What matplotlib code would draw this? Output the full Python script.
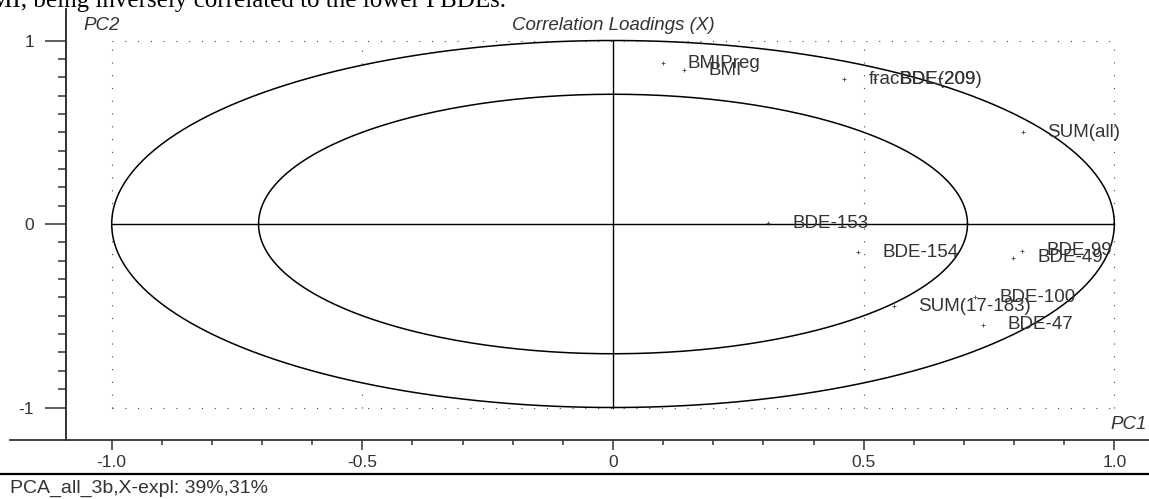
#!/usr/bin/env python3
"""
Correlation loadings plot (PC1 vs PC2) redrawn from the PCA_all_3b report page.
"""

import matplotlib

matplotlib.use("Agg")
import matplotlib.pyplot as plt
import numpy as np
from matplotlib.lines import Line2D

plt.rcParams["font.family"] = ["Liberation Sans", "DejaVu Sans"]

# loadings
variables = ["BMIPreg", "BMI", "fracBDE(209)", "BDE-209", "SUM(all)", "BDE-153",
             "BDE-154", "BDE-99", "BDE-49", "BDE-100", "SUM(17-183)", "BDE-47"]
pc1 = [0.100, 0.142, 0.461, 0.523, 0.818, 0.309, 0.489, 0.816, 0.798, 0.722, 0.560, 0.738]
pc2 = [0.877, 0.839, 0.790, 0.790, 0.501, 0.005, -0.153, -0.147, -0.185, -0.398, -0.447, -0.550]

x_ticks = [-1.0, -0.5, 0.0, 0.5, 1.0]
x_ticklabels = ["-1.0", "-0.5", "0", "0.5", "1.0"]
y_ticks = [-1, 0, 1]
y_ticklabels = ["-1", "0", "1"]

W, H = 1149, 499


def main() -> None:
    fig = plt.figure(figsize=(W / 100, H / 100), dpi=100)
    ax = fig.add_axes([66 / W, 59 / H, (W - 66) / W, 431 / H])
    ax.set_xlim(-1.0912, 1.0692)
    ax.set_ylim(-1.1771, 1.1717)

    for s in ["top", "right"]:
        ax.spines[s].set_visible(False)
    ax.spines["left"].set_color("#333333")
    ax.spines["left"].set_linewidth(1.4)
    ax.spines["bottom"].set_color("#333333")
    ax.spines["bottom"].set_linewidth(1.3)

    # x axis line runs a bit past the y axis on the left
    fig.add_artist(Line2D([10 / W, 66 / W], [59 / H, 59 / H], color="#333333", lw=1.3))
    # rule under the axis
    fig.add_artist(Line2D([0, 1], [25 / H, 25 / H], color="black", lw=1.6))

    ax.set_xticks(x_ticks)
    ax.set_xticklabels(x_ticklabels)
    ax.set_xticks(np.arange(-1.0, 1.01, 0.1), minor=True)
    ax.set_yticks(y_ticks)
    ax.set_yticklabels(y_ticklabels)
    ax.set_yticks(np.arange(-1.0, 1.01, 0.1), minor=True)
    ax.tick_params(axis="x", which="major", length=7.2, width=1.1, pad=3.5,
                   labelsize=12.5, colors="#333333")
    ax.tick_params(axis="x", which="minor", length=3.6, width=1.1, colors="#333333")
    ax.tick_params(axis="y", which="major", length=15, width=1.1, pad=8,
                   labelsize=12.5, colors="#333333")
    ax.tick_params(axis="y", which="minor", length=5.8, width=1.1, colors="#333333")

    # dotted frame / grid
    dots = dict(color="#444444", lw=0.8, linestyle=(0, (1, 10.5)))
    ax.plot([-1, 1], [1, 1], **dots)
    ax.plot([-1, 1], [-1, -1], **dots)
    for gx in [-1.0, 0.5, 1.0]:
        ax.plot([gx, gx], [-1, 1], **dots)
    ax.plot([-0.5, -0.5], [0.87, 1.0], **dots)
    ax.plot([-0.5, -0.5], [-1.0, -0.87], **dots)

    # 100% and 50% explained variance ellipses
    t = np.linspace(0, 2 * np.pi, 400)
    for r in [1.0, np.sqrt(0.5)]:
        ax.plot(r * np.cos(t), r * np.sin(t), color="black", lw=1.1)
    ax.plot([-1, 1], [0, 0], color="black", lw=1.0)
    ax.plot([0, 0], [-1, 1], color="black", lw=1.0)

    ax.plot(pc1, pc2, "+", ms=3, mew=0.6, color="#444444", ls="none")
    for name, x, y in zip(variables, pc1, pc2):
        ax.annotate(name, (x, y), xytext=(17.5, 0), textcoords="offset points",
                    ha="left", va="center", fontsize=13.5, color="#333333")

    ax.text(0, 1.084, "Correlation Loadings (X)", ha="center", va="center",
            fontsize=13.5, style="italic", color="#333333")
    ax.text(-1.057, 1.084, "PC2", ha="left", va="center", fontsize=13.5,
            style="italic", color="#333333")
    ax.text(1.064, -1.095, "PC1", ha="right", va="center", fontsize=13.5,
            style="italic", color="#333333")

    fig.text(10 / W, 1 - 488 / H, "PCA_all_3b,X-expl: 39%,31%", ha="left", va="center",
             fontsize=14, color="#333333")
    # cut-off line of running text above the figure
    fig.text(-10 / W, 1 - 7 / H, "MI, being inversely correlated to the lower PBDEs.",
             ha="left", va="baseline", fontsize=18, color="black",
             family=["Liberation Serif", "DejaVu Serif"])

    fig.savefig("out.png", dpi=100)
    plt.close(fig)


if __name__ == "__main__":
    main()
